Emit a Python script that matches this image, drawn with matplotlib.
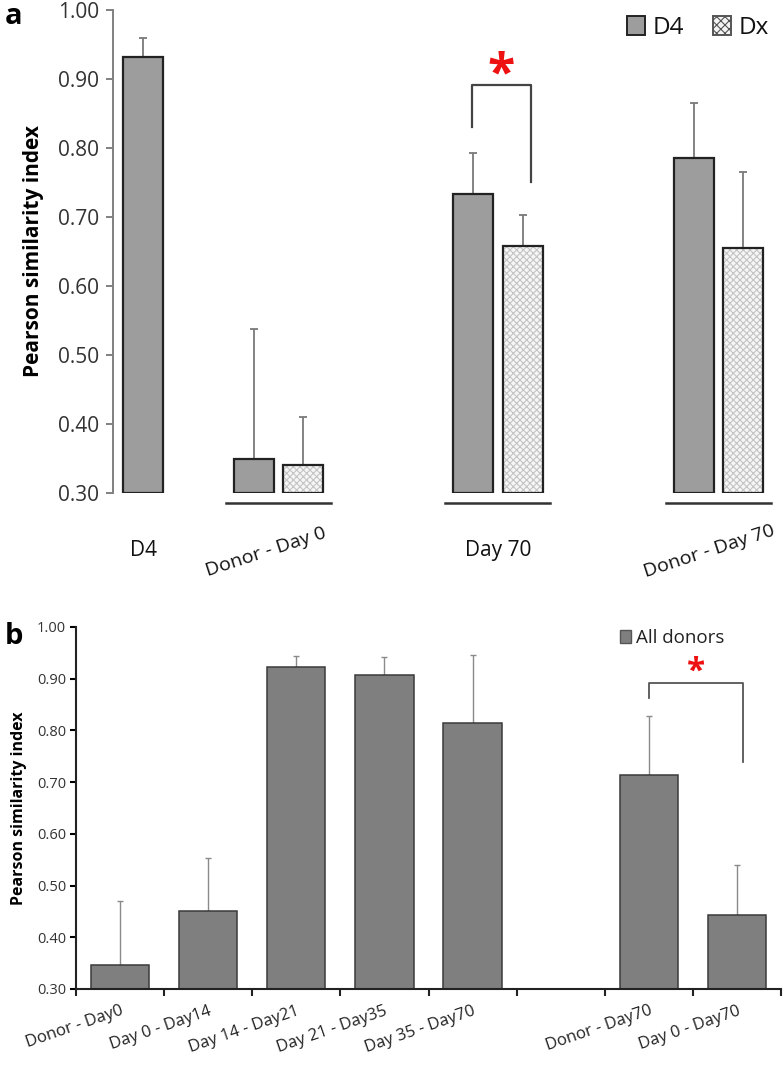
import matplotlib
matplotlib.use("Agg")
import matplotlib.pyplot as plt
from matplotlib.patches import Patch

plt.rcParams['font.family'] = ['Open Sans', 'DejaVu Sans']
plt.rcParams['hatch.linewidth'] = 0.8

# --- panel a data ---
groups_a = ['D4', 'Donor - Day 0', 'Day 70', 'Donor - Day 70']
d4_vals = [0.932, 0.349, 0.733, 0.785]
d4_err = [0.027, 0.189, 0.060, 0.080]
dx_vals = [None, 0.340, 0.658, 0.655]
dx_err = [None, 0.070, 0.045, 0.110]

# --- panel b data ---
cats_b = ['Donor - Day0', 'Day 0 - Day14', 'Day 14 - Day21', 'Day 21 - Day35',
          'Day 35 - Day70', '', 'Donor - Day70', 'Day 0 - Day70']
vals_b = [0.346, 0.451, 0.923, 0.907, 0.814, None, 0.714, 0.443]
err_b = [0.124, 0.102, 0.021, 0.035, 0.132, None, 0.114, 0.097]

# layout for panel a (group centres in axis units)
pos_a = [0.0, 0.98, 2.57, 4.17]
off = 0.18
bw = 0.29

fig = plt.figure(figsize=(7.83, 10.67), dpi=100)

# ================= panel a =================
ax = fig.add_axes([113 / 783, 1 - 493 / 1067, 662 / 783, 483 / 1067])
ax.set_xlim(-0.22, 4.58)
ax.set_ylim(0.30, 1.00)

base = 0.30
for i, g in enumerate(groups_a):
    if dx_vals[i] is None:
        xs = [pos_a[i]]
    else:
        xs = [pos_a[i] - off, pos_a[i] + off]
    # D4 bar
    ax.bar(xs[0], d4_vals[i] - base, bottom=base, width=bw, color='#9d9d9d',
           edgecolor='#222222', linewidth=1.6, zorder=2)
    ax.errorbar(xs[0], d4_vals[i], yerr=[[0], [d4_err[i]]], fmt='none',
                ecolor='#7a7a7a', elinewidth=1.3, capsize=3, capthick=1.3, zorder=1)
    if dx_vals[i] is not None:
        ax.bar(xs[1], dx_vals[i] - base, bottom=base, width=bw, color='#f6f6f6',
               edgecolor='#c4c4c4', hatch='xxxxx', linewidth=0, zorder=2)
        ax.bar(xs[1], dx_vals[i] - base, bottom=base, width=bw, fill=False,
               edgecolor='#222222', linewidth=1.6, zorder=3)
        ax.errorbar(xs[1], dx_vals[i], yerr=[[0], [dx_err[i]]], fmt='none',
                    ecolor='#7a7a7a', elinewidth=1.3, capsize=3, capthick=1.3, zorder=1)
        # group underline
        ax.plot([pos_a[i] - 0.38, pos_a[i] + 0.38], [0.2855, 0.2855], color='#333333',
                lw=1.8, clip_on=False)

# category labels
ax.text(pos_a[0], 0.217, groups_a[0], ha='center', va='center', fontsize=15, color='#111111')
ax.text(pos_a[2], 0.217, groups_a[2], ha='center', va='center', fontsize=15, color='#111111')
ax.text(pos_a[1] - 0.09, 0.215, groups_a[1], ha='center', va='center', fontsize=14,
        rotation=18, rotation_mode='anchor', color='#111111')
ax.text(pos_a[3] - 0.07, 0.215, groups_a[3], ha='center', va='center', fontsize=14,
        rotation=18, rotation_mode='anchor', color='#111111')

# significance bracket
bx0 = pos_a[2] - off - 0.01
bx1 = pos_a[2] + off + 0.06
ax.plot([bx0, bx0, bx1, bx1], [0.830, 0.891, 0.891, 0.751], color='#444444', lw=1.6)
ax.text((bx0 + bx1) / 2, 0.905, '*', ha='center', va='center', fontsize=36,
        fontweight='bold', color='#ee1111')

for s in ['top', 'right', 'bottom']:
    ax.spines[s].set_visible(False)
ax.spines['left'].set_color('#808080')
ax.spines['left'].set_linewidth(1.4)
ax.set_xticks([])
ax.set_yticks([0.30, 0.40, 0.50, 0.60, 0.70, 0.80, 0.90, 1.00])
ax.set_yticklabels(['%.2f' % v for v in ax.get_yticks()])
ax.tick_params(axis='y', colors='#808080', length=5, width=1.4, labelsize=15,
               labelcolor='#333333', pad=5)
ax.set_ylabel('Pearson similarity index', fontsize=15, fontweight='bold', labelpad=10)

handles = [Patch(facecolor='#9d9d9d', edgecolor='#222222', linewidth=1.4, label='D4'),
           Patch(facecolor='#f4f4f4', edgecolor='#555555', hatch='xxxx', linewidth=1.4, label='Dx')]
ax.legend(handles=handles, loc='upper right', bbox_to_anchor=(0.998, 0.998), ncol=2,
          frameon=False, borderaxespad=0.0, borderpad=0.2, handlelength=0.75,
          handleheight=0.8, handletextpad=0.3, columnspacing=1.2, fontsize=17.5,
          labelcolor='#111111')

fig.text(0.006, 0.985, 'a', fontsize=21, fontweight='bold', va='center')

# ================= panel b =================
bx = fig.add_axes([76 / 783, 1 - 989 / 1067, 705 / 783, 362 / 1067])
bx.set_xlim(-0.5, 7.5)
bx.set_ylim(0.30, 1.00)
for i, v in enumerate(vals_b):
    if v is None:
        continue
    bx.bar(i, v - base, bottom=base, width=0.66, color='#7f7f7f', edgecolor='#3a3a3a',
           linewidth=1.1, zorder=2)
    bx.errorbar(i, v, yerr=[[0], [err_b[i]]], fmt='none', ecolor='#8a8a8a',
                elinewidth=1.0, capsize=2.5, capthick=1.0, zorder=1)

# significance bracket
cx0 = 6.0
cx1 = 7.07
bx.plot([cx0, cx0, cx1, cx1], [0.863, 0.892, 0.892, 0.739], color='#555555', lw=1.3)
bx.text((cx0 + cx1) / 2, 0.912, '*', ha='center', va='center', fontsize=24,
        fontweight='bold', color='#ee1111')

for s in ['top', 'right']:
    bx.spines[s].set_visible(False)
for s in ['left', 'bottom']:
    bx.spines[s].set_color('#222222')
    bx.spines[s].set_linewidth(1.5)
bx.set_xticks(range(len(cats_b)))
bx.set_xticklabels(cats_b, rotation=19, ha='right', rotation_mode='anchor',
                   fontsize=12, color='#222222')
bx.set_xticks([k - 0.5 for k in range(len(cats_b) + 1)], minor=True)
bx.tick_params(axis='x', which='major', length=0, pad=10)
bx.tick_params(axis='x', which='minor', length=5, width=1.5, direction='out', colors='#222222')
bx.set_yticks([0.30, 0.40, 0.50, 0.60, 0.70, 0.80, 0.90, 1.00])
bx.set_yticklabels(['%.2f' % v for v in bx.get_yticks()])
bx.tick_params(axis='y', length=4, width=1.5, labelsize=10.5, labelcolor='#333333', pad=3)
bx.set_ylabel('Pearson similarity index', fontsize=11.5, fontweight='bold', labelpad=7)

bx.legend(handles=[Patch(facecolor='#7f7f7f', edgecolor='#555555', label='All donors')],
          loc='upper left', bbox_to_anchor=(0.747, 1.04), frameon=False,
          handlelength=0.6, handleheight=0.7, handletextpad=0.3, fontsize=13.5,
          labelcolor='#222222')

fig.text(0.006, 1 - 636 / 1067, 'b', fontsize=21, fontweight='bold', va='center')

fig.savefig('out.png', dpi=100)
